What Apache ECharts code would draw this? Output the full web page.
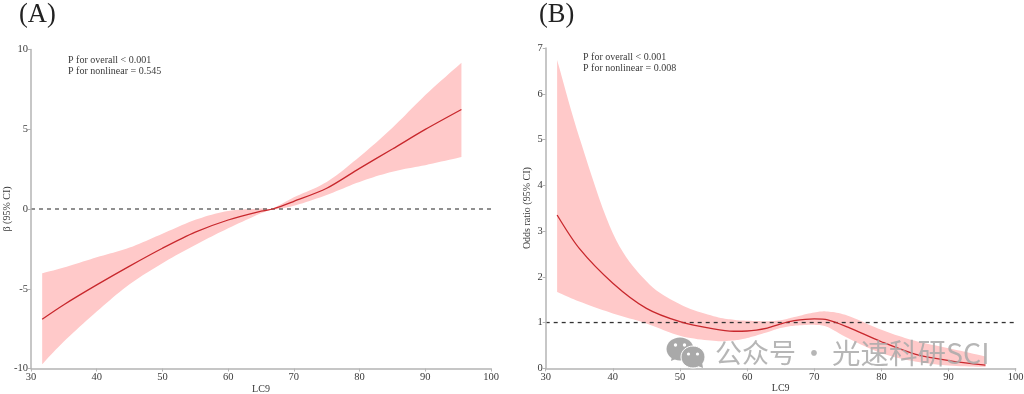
<!DOCTYPE html>
<html><head><meta charset="utf-8">
<style>html,body{margin:0;padding:0;background:#fff}#c{width:1024px;height:394px}</style>
<script src="https://cdn.jsdelivr.net/npm/echarts@6/dist/echarts.min.js"></script>
</head><body><div id="c"></div>
<script>
const xA = [31.7,35,40,45,50,55,60,65,66.8,70,75,80,85,90,95.5];
const midA = [-6.91,-6.0,-4.76,-3.58,-2.46,-1.45,-0.69,-0.14,0,0.48,1.3,2.55,3.76,4.99,6.24];
const upA  = [-4.03,-3.67,-3.03,-2.42,-1.55,-0.68,-0.12,0.03,0.05,0.73,1.7,3.28,5.1,7.14,9.17];
const loA  = [-9.73,-8.31,-6.43,-4.72,-3.4,-2.25,-1.21,-0.27,-0.05,0.2,0.88,1.7,2.34,2.75,3.26];

const xB = [31.7,35,40,45,50,55,58,60,63,65,67,70,72,75,80,85,90,95.5];
const midB = [3.35,2.62,1.86,1.31,1.02,0.86,0.81,0.815,0.88,0.97,1.04,1.08,1.06,0.9,0.58,0.31,0.17,0.07];
const upB  = [6.74,5.05,2.95,1.9,1.4,1.14,1.06,1.04,1.03,1.05,1.12,1.22,1.24,1.15,0.84,0.6,0.44,0.26];
const loB  = [1.67,1.46,1.2,0.98,0.71,0.6,0.61,0.66,0.79,0.88,0.93,0.95,0.9,0.66,0.33,0.15,0.06,0.03];

const xTicks = {min:30,max:100,interval:10};
const refA = 0, refB = 1;
const statsA = ["P for overall < 0.001","P for nonlinear = 0.545"];
const statsB = ["P for overall < 0.001","P for nonlinear = 0.008"];

const serif = '"Liberation Serif","Times New Roman",serif';
const axisCol = '#b4b4b4', txt = '#3a3a3a';
const zip = (x,y)=>x.map((v,i)=>[v,y[i]]);

function xAxis(i){return {gridIndex:i,type:'value',z:6,...xTicks,name:'LC9',nameLocation:'middle',nameGap:15.5,nameMoveOverlap:false,
  nameTextStyle:{fontFamily:serif,fontSize:10,color:txt},
  axisLine:{show:true,onZero:false,lineStyle:{color:axisCol,width:1.5}},
  axisTick:{show:true,length:3,lineStyle:{color:axisCol}},
  axisLabel:{fontFamily:serif,fontSize:10.5,color:txt,margin:3,showMinLabel:true,showMaxLabel:true,hideOverlap:false},
  splitLine:{show:false}};}
function yAxis(i,min,max,interval,name,gap){return {gridIndex:i,type:'value',z:6,min,max,interval,name,nameLocation:'middle',nameGap:gap,nameRotate:90,nameMoveOverlap:false,
  nameTextStyle:{fontFamily:serif,fontSize:10,color:txt},
  axisLine:{show:true,onZero:false,lineStyle:{color:axisCol,width:1.5}},
  axisTick:{show:true,length:3,lineStyle:{color:axisCol}},
  axisLabel:{fontFamily:serif,fontSize:10.5,color:txt,margin:3,showMinLabel:true,showMaxLabel:true,hideOverlap:false},
  splitLine:{show:false}};}

// Smooth a run of pixel points with a Catmull-Rom spline, for the band outline only.
function spline(p){
  const out=[];
  for(let i=0;i<p.length-1;i++){
    const a=p[Math.max(i-1,0)],b=p[i],c=p[i+1],d=p[Math.min(i+2,p.length-1)];
    for(let k=0;k<10;k++){
      const t=k/10,t2=t*t,t3=t2*t;
      out.push([0,1].map(j=>0.5*(2*b[j]+(c[j]-a[j])*t+(2*a[j]-5*b[j]+4*c[j]-d[j])*t2+(3*b[j]-a[j]-3*c[j]+d[j])*t3)));
    }
  }
  out.push(p[p.length-1]);
  return out;
}
function band(x,up,lo){
  return function(params,api){
    if(params.dataIndex!==0) return null;
    const top=spline(x.map((v,i)=>api.coord([v,up[i]])));
    const bot=spline(x.map((v,i)=>api.coord([v,lo[i]])));
    return {type:'polygon',shape:{points:top.concat(bot.reverse())},style:{fill:'#ffc9c9'}};
  };
}
function panel(i,x,mid,up,lo,ref,refCol){
  const s={xAxisIndex:i,yAxisIndex:i,silent:true,animation:false};
  const l={...s,type:'line',showSymbol:false};
  return [
    {...s,type:'custom',renderItem:band(x,up,lo),data:x.map((v,k)=>[v,up[k],lo[k]]),encode:{x:0,y:[1,2]},z:2},
    {...l,data:[[30,ref],[100,ref]],lineStyle:{color:refCol,width:1.3,type:[4,4]},z:4},
    {...l,smooth:0.3,data:zip(x,mid),lineStyle:{color:'#c8282d',width:1.3},z:5}
  ];
}
function note(left,top,text){return {left,top,padding:0,text,textStyle:{fontFamily:serif,fontSize:10,fontWeight:'normal',color:txt,lineHeight:11}};}

const chart=echarts.init(document.getElementById('c'),null,{renderer:'canvas'});
const wm='#a9a9a9';
const big={fontFamily:serif,fontSize:26.5,fontWeight:'normal',color:'#222'};
const Z={z:100,silent:true};
const wmFont=s=>s+'px "Noto Sans CJK SC","Noto Sans",sans-serif';
chart.setOption({
  animation:false,
  title:[
    {left:19,top:2,padding:0,text:'(A)',textStyle:big},
    {left:539,top:2,padding:0,text:'(B)',textStyle:big},
    note(68,54.5,statsA.join('\n')),
    note(583,52,statsB.join('\n'))
  ],
  grid:[
    {left:31,right:533,top:49.5,bottom:25.5,outerBoundsMode:'none'},
    {left:545.7,right:8.3,top:48,bottom:25.7,outerBoundsMode:'none'}
  ],
  xAxis:[xAxis(0),xAxis(1)],
  yAxis:[yAxis(0,-10,10,5,'β (95% CI)',19),yAxis(1,0,7,1,'Odds ratio (95% CI)',13)],
  series:[...panel(0,xA,midA,upA,loA,refA,'#555'),...panel(1,xB,midB,upB,loB,refB,'#333')],
  graphic:[
      {type:'ellipse',...Z,shape:{cx:680,cy:349,rx:13.5,ry:11.5},style:{fill:wm}},
      {type:'polygon',...Z,shape:{points:[[672,356],[671,361],[678,358]]},style:{fill:wm}},
      {type:'circle',...Z,z:101,shape:{cx:675.5,cy:345,r:1.7},style:{fill:'#fff'}},
      {type:'circle',...Z,z:101,shape:{cx:684.5,cy:345,r:1.7},style:{fill:'#fff'}},
      {type:'ellipse',...Z,z:102,shape:{cx:693,cy:357,rx:12,ry:11},style:{fill:wm,stroke:'#fff',lineWidth:1}},
      {type:'polygon',...Z,z:102,shape:{points:[[698,366],[703,368],[702,362]]},style:{fill:wm}},
      {type:'circle',...Z,z:103,shape:{cx:688.5,cy:354,r:1.6},style:{fill:'#fff'}},
      {type:'circle',...Z,z:103,shape:{cx:697.5,cy:354,r:1.6},style:{fill:'#fff'}},
      {type:'text',...Z,style:{x:715,y:353,text:'公众号',fill:wm,opacity:.85,verticalAlign:'middle',font:wmFont(27)}},
      {type:'text',...Z,style:{x:814,y:353,text:'·',fill:wm,opacity:.85,align:'center',verticalAlign:'middle',font:wmFont(27)}},
      {type:'text',...Z,style:{x:832,y:353,text:'光速科研SCI',fill:wm,opacity:.85,verticalAlign:'middle',font:wmFont(28.5)}}
  ]
});
</script></body></html>
